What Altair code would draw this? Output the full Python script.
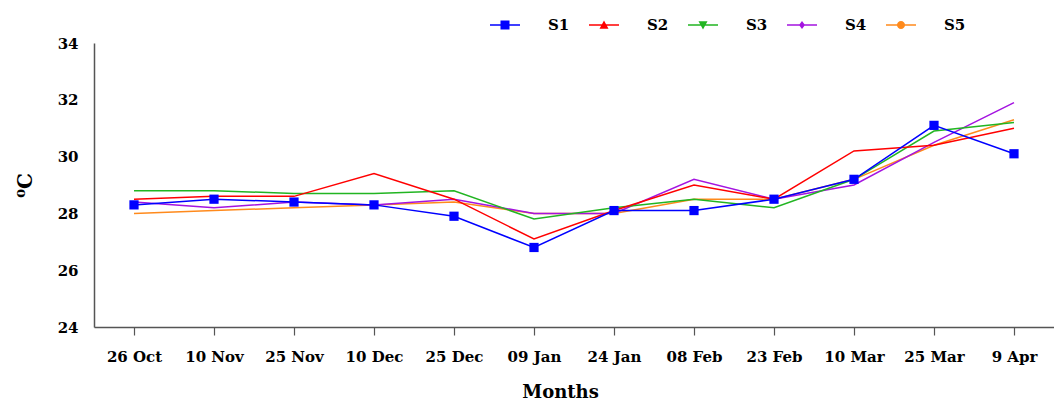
import altair as alt
import pandas as pd

categories = ["26 Oct", "10 Nov", "25 Nov", "10 Dec", "25 Dec", "09 Jan",
              "24 Jan", "08 Feb", "23 Feb", "10 Mar", "25 Mar", "9 Apr"]
series_names = ["S1", "S2", "S3", "S4", "S5"]
s1 = [28.3, 28.5, 28.4, 28.3, 27.9, 26.8, 28.1, 28.1, 28.5, 29.2, 31.1, 30.1]
s2 = [28.5, 28.6, 28.6, 29.4, 28.5, 27.1, 28.1, 29.0, 28.5, 30.2, 30.4, 31.0]
s3 = [28.8, 28.8, 28.7, 28.7, 28.8, 27.8, 28.2, 28.5, 28.2, 29.2, 30.9, 31.2]
s4 = [28.4, 28.2, 28.4, 28.3, 28.5, 28.0, 28.0, 29.2, 28.5, 29.0, 30.5, 31.9]
s5 = [28.0, 28.1, 28.2, 28.3, 28.4, 28.0, 28.0, 28.5, 28.5, 29.2, 30.4, 31.3]
colors = ["#0000FF", "#FF0000", "#22B522", "#A414E0", "#FF8A1C"]

values = {"S1": s1, "S2": s2, "S3": s3, "S4": s4, "S5": s5}
rows = []
for name in ["S5", "S4", "S3", "S2", "S1"]:
    for c, v in zip(categories, values[name]):
        rows.append({"month": c, "temp": v, "series": name})
df = pd.DataFrame(rows)

FONT = "DejaVu Serif"

line_path = "M-1,-0.05H1V0.05H-1Z"
markers = [
    "M-0.3,-0.3H0.3V0.3H-0.3Z",
    "M0,-0.3L0.3,0.25L-0.3,0.25Z",
    "M0,0.3L-0.3,-0.25L0.3,-0.25Z",
    "M0,-0.27L0.2,0L0,0.27L-0.2,0Z",
    "M0.27,0A0.27,0.27,0,1,1,-0.27,0A0.27,0.27,0,1,1,0.27,0Z",
]
legend_shapes = [line_path + m for m in markers]

color_scale = alt.Scale(domain=series_names, range=colors)
shape_scale = alt.Scale(domain=series_names, range=legend_shapes)

x_enc = alt.X("month:N", sort=categories,
              scale=alt.Scale(type="point", padding=0.5),
              axis=alt.Axis(title="Months", labelAngle=0, ticks=True, tickSize=8,
                            labelPadding=14, labelFont=FONT, labelFontSize=15,
                            labelFontWeight="bold", labelColor="black",
                            titleFont=FONT, titleFontSize=18, titleFontWeight="bold",
                            titleColor="black", titleX=466, titleY=70,
                            titleBaseline="alphabetic", titleAlign="center",
                            domainColor="#555555", tickColor="#555555",
                            domainWidth=1.5, tickWidth=1.2, grid=False))
y_enc = alt.Y("temp:Q", scale=alt.Scale(domain=[24, 34], nice=False),
              axis=alt.Axis(title="⁰C", values=[24, 26, 28, 30, 32, 34],
                            ticks=False, labelPadding=16, labelFont=FONT,
                            labelFontSize=15, labelFontWeight="bold",
                            labelColor="black", titleFont=FONT, titleFontSize=20,
                            titleFontWeight="bold", titleColor="black",
                            titlePadding=22, domainColor="#555555",
                            domainWidth=1.5, grid=False))

leg = alt.Legend(title=None, orient="none", legendX=396, legendY=-33,
                 direction="horizontal", symbolSize=900, symbolStrokeWidth=0,
                 labelOffset=28, columnPadding=19, padding=0, labelFont=FONT,
                 labelFontSize=15, labelFontWeight="bold", labelColor="black",
                 symbolOpacity=1)

lines = alt.Chart(df).mark_line(strokeWidth=1.5).encode(
    x=x_enc,
    y=y_enc,
    color=alt.Color("series:N", scale=color_scale, legend=leg),
    detail="series:N",
)

legend_layer = alt.Chart(df).transform_filter("datum.temp < 0").mark_point(
    filled=True, opacity=1, strokeWidth=0
).encode(
    x=alt.X("month:N", sort=categories),
    y="temp:Q",
    color=alt.Color("series:N", scale=color_scale, legend=leg),
    shape=alt.Shape("series:N", scale=shape_scale, legend=leg),
)

points = alt.Chart(df[df["series"] == "S1"]).mark_point(
    shape="square", filled=True, size=85, opacity=1, color="#0000FF"
).encode(x=alt.X("month:N", sort=categories), y="temp:Q")

chart = alt.layer(lines, legend_layer, points).properties(
    width=960, height=284,
    padding={"left": 86, "top": 35, "right": 0, "bottom": 77},
    autosize=alt.AutoSizeParams(type="none"),
).configure(background="white").configure_view(stroke=None)

chart.save("out.html", embed_options={"renderer": "svg", "actions": False})
